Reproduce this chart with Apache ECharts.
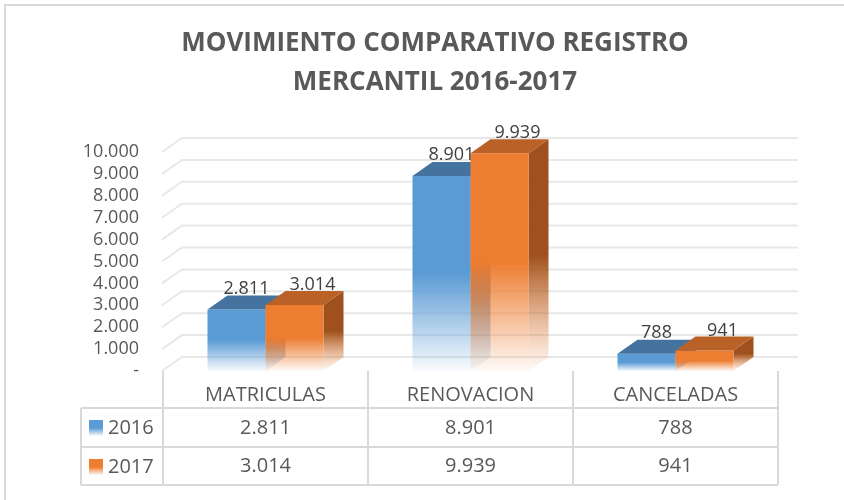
<!DOCTYPE html>
<html>
<head>
<meta charset="utf-8">
<script src="https://cdn.jsdelivr.net/npm/echarts@6/dist/echarts.min.js"></script>
<style>html,body{margin:0;background:#fff}#main{width:844px;height:500px}</style>
</head>
<body>
<div id="main"></div>
<script>
var chartDom = document.getElementById('main');
var myChart = echarts.init(chartDom, null, {
    width: 844,
    height: 500
});

var categories = ['MATRICULAS', 'RENOVACION', 'CANCELADAS'];
var years = ['2016', '2017'];
var values2016 = [2811, 8901, 788];
var values2017 = [3014, 9939, 941];
var yTicks = [0, 1000, 2000, 3000, 4000, 5000, 6000, 7000, 8000, 9000, 10000];

var FONT = '"Open Sans", "Liberation Sans", sans-serif';
var DX = 20, DY = -14;
var colors = [
    { front: '#5B9BD5', top: '#44739F', side: '#3B6790', rgb: '91,155,213', labelDx: 10, labelDy: -21 },
    { front: '#ED7D31', top: '#BA6128', side: '#9E511C', rgb: '237,125,49', labelDx: 18, labelDy: -20 }
];

// 2811 -> "2.811", 0 -> "-"
function fmt(v) {
    if (v === 0) return '-';
    return String(v).replace(/\B(?=(\d{3})+(?!\d))/g, '.');
}

function fade(c, rgb) {
    return new echarts.graphic.LinearGradient(0, 0, 0, 1, [
        { offset: 0, color: c },
        { offset: 0.5, color: c },
        { offset: 1, color: 'rgba(' + rgb + ',0.04)' }
    ]);
}

function barRenderer(s) {
    return function (params, api) {
        var cat = api.value(0);
        var val = api.value(1);
        var top = api.coord([cat, val]);
        var base = api.coord([cat, 0]);
        var band = api.size([1, 0])[0];
        var w = band * 0.283;
        var x0 = s === 0 ? top[0] - w : top[0];
        var x1 = x0 + w;
        var yt = top[1], yb = base[1];
        var c = colors[s];
        return {
            type: 'group',
            children: [
                {
                    type: 'polygon',
                    shape: { points: [[x1, yt], [x1 + DX, yt + DY], [x1 + DX, yb + DY], [x1, yb]] },
                    style: { fill: fade(c.side, c.rgb) }
                },
                {
                    type: 'rect',
                    shape: { x: x0, y: yt, width: w, height: yb - yt },
                    style: { fill: fade(c.front, c.rgb) }
                },
                {
                    type: 'polygon',
                    shape: { points: [[x0, yt], [x0 + DX, yt + DY], [x1 + DX, yt + DY], [x1, yt]] },
                    style: { fill: c.top }
                },
                {
                    type: 'text',
                    z2: 20,
                    x: (x0 + x1) / 2 + c.labelDx,
                    y: yt + c.labelDy,
                    style: {
                        text: fmt(val),
                        font: '18px ' + FONT,
                        fill: '#404040',
                        align: 'center',
                        verticalAlign: 'middle'
                    }
                }
            ]
        };
    };
}

function wallRenderer(params, api) {
    var y = api.coord([0, api.value(1)])[1];
    var cs = params.coordSys;
    var x = cs.x - 1;
    return {
        type: 'polyline',
        shape: { points: [[x, y], [x + DX, y + DY], [cs.x + cs.width + DX, y + DY]] },
        style: { stroke: '#e8e8e8', lineWidth: 2, fill: null }
    };
}

var lineStyle = { stroke: '#d9d9d9', lineWidth: 2 };

var option = {
    animation: false,
    title: {
        text: 'MOVIMIENTO COMPARATIVO REGISTRO\nMERCANTIL 2016-2017',
        left: 435,
        top: 24,
        padding: 0,
        textAlign: 'center',
        textStyle: {
            fontFamily: FONT,
            fontSize: 26,
            fontWeight: 'bold',
            color: '#595959',
            lineHeight: 39
        }
    },
    legend: {
        data: years,
        orient: 'vertical',
        left: 89,
        top: 418,
        padding: 0,
        itemWidth: 14,
        itemHeight: 16,
        itemGap: 19,
        icon: 'rect',
        textStyle: { fontFamily: FONT, fontSize: 20, color: '#595959' }
    },
    grid: {
        left: 163,
        right: 66,
        top: 152,
        bottom: 129
    },
    xAxis: {
        type: 'category',
        data: categories,
        axisLine: { show: false },
        axisTick: {
            show: true,
            interval: 0,
            length: 114,
            lineStyle: { color: '#d9d9d9', width: 2 }
        },
        axisLabel: {
            interval: 0,
            margin: 10,
            formatter: function (value, idx) {
                return '{a|' + value + '}\n{b|' + fmt(values2016[idx]) + '}\n{b|' + fmt(values2017[idx]) + '}';
            },
            rich: {
                a: { fontFamily: FONT, fontSize: 20, color: '#595959', lineHeight: 28 },
                b: { fontFamily: FONT, fontSize: 20, color: '#595959', lineHeight: 38 }
            }
        }
    },
    yAxis: {
        type: 'value',
        min: 0,
        max: 10000,
        interval: 1000,
        axisLine: { show: false },
        axisTick: { show: false },
        splitLine: { show: false },
        axisLabel: {
            margin: 24,
            formatter: fmt,
            fontFamily: FONT,
            fontSize: 18,
            color: '#595959'
        }
    },
    series: [
        {
            type: 'custom',
            name: 'wall',
            silent: true,
            z: 1,
            data: yTicks.map(function (v) { return [0, v]; }),
            renderItem: wallRenderer
        },
        {
            type: 'custom',
            name: years[0],
            z: 2,
            itemStyle: { color: fade(colors[0].front, colors[0].rgb) },
            data: values2016.map(function (v, i) { return [i, v]; }),
            renderItem: barRenderer(0)
        },
        {
            type: 'custom',
            name: years[1],
            z: 2,
            itemStyle: { color: fade(colors[1].front, colors[1].rgb) },
            data: values2017.map(function (v, i) { return [i, v]; }),
            renderItem: barRenderer(1)
        }
    ],
    graphic: [
        { type: 'rect', silent: true, shape: { x: 5, y: 5, width: 900, height: 600 }, style: { stroke: '#d9d9d9', lineWidth: 2, fill: null } },
        { type: 'line', silent: true, shape: { x1: 81, y1: 408, x2: 778, y2: 408 }, style: lineStyle },
        { type: 'line', silent: true, shape: { x1: 81, y1: 447, x2: 778, y2: 447 }, style: lineStyle },
        { type: 'line', silent: true, shape: { x1: 81, y1: 485, x2: 778, y2: 485 }, style: lineStyle },
        { type: 'line', silent: true, shape: { x1: 81, y1: 408, x2: 81, y2: 485 }, style: lineStyle }
    ]
};

option && myChart.setOption(option);
</script>
</body>
</html>
